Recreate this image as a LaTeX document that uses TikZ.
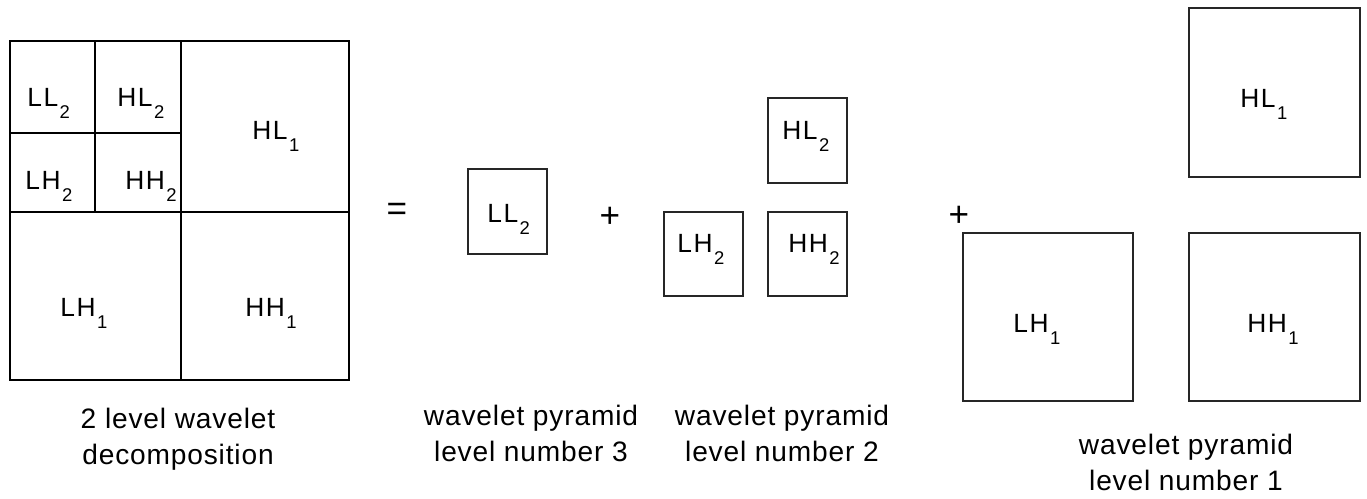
\documentclass[tikz,border=0pt]{standalone}
\usepackage{fontspec}
\setmainfont{Liberation Sans}[LetterSpace=3]
\newfontfamily\bandfont{Liberation Sans}[LetterSpace=6]

% subband name with its level set low, as in the figure
\newcommand{\band}[2]{#1\kern0.8pt\raisebox{-6.3pt}{\fontsize{10.5}{10.5}\selectfont #2}}

\begin{document}
\begin{tikzpicture}[
    x=0.02cm, y=-0.02cm,
    outerline/.style={black, line width=0.8pt},
    splitline/.style={black, line width=1.4pt},
    boxline/.style={black!85, line width=0.75pt},
    bandlabel/.style={font=\bandfont\fontsize{15}{17}\selectfont, inner sep=0pt, anchor=base west},
    caption/.style={font=\fontsize{16}{21}\selectfont, align=center, inner sep=0pt, anchor=base},
    opsign/.style={font=\fontsize{20}{20}\selectfont, inner sep=0pt},
]

\useasboundingbox (0,0) rectangle (1367,499);

% ── Two level decomposition ─────────────────────────────────
\draw[outerline] (10,41) rectangle (349,380);
\draw[splitline] (181,41) -- (181,380);
\draw[splitline] (10,212) -- (349,212);
\draw[splitline] (95,41) -- (95,212);
\draw[splitline] (10,133) -- (181,133);

\foreach \name/\x/\y/\b/\s in {dll2/27/107/LL/2, dhl2/117/107/HL/2,
        dlh2/25/190/LH/2, dhh2/125/190/HH/2, dhl1/252/140/HL/1,
        dlh1/60/317/LH/1, dhh1/245/317/HH/1} {
    \node[bandlabel] (\name) at (\x,\y) {\band{\b}{\s}};
}

% ── Pyramid levels 3, 2, 1 ──────────────────────────────────
\foreach \xa/\ya/\xb/\yb in {468/169/547/254,
        768/98/847/183, 664/212/743/296, 768/212/847/296,
        1189/8/1360/177, 963/233/1133/401, 1189/233/1360/401} {
    \draw[boxline] (\xa,\ya) rectangle (\xb,\yb);
}

\foreach \name/\x/\y/\b/\s in {pll2/487/223/LL/2,
        phl2/782/140/HL/2, plh2/677/253/LH/2, phh2/788/253/HH/2,
        phl1/1240/108/HL/1, plh1/1013/333/LH/1, phh1/1247/333/HH/1} {
    \node[bandlabel] (\name) at (\x,\y) {\band{\b}{\s}};
}

% ── Signs ───────────────────────────────────────────────────
\node[opsign] (eq) at (397,212) {=};
\node[opsign] (plusa) at (610,217) {+};
\node[opsign] (plusb) at (959,216) {+};

% ── Captions (anchored on the second line) ──────────────────
\node[caption] (capdec) at (178,465) {2 level wavelet\\decomposition};
\node[caption] (caplv3) at (531,462) {wavelet pyramid\\level number 3};
\node[caption] (caplv2) at (782,462) {wavelet pyramid\\level number 2};
\node[caption] (caplv1) at (1186,491) {wavelet pyramid\\level number 1};

\end{tikzpicture}
\end{document}
